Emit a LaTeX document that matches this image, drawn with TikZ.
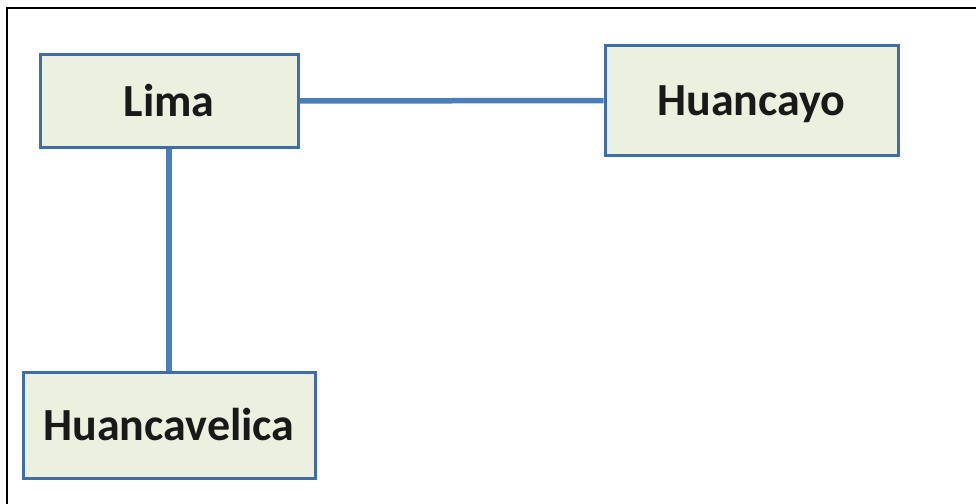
\documentclass[tikz,border=0pt]{standalone}
\usepackage{fontspec}
\setmainfont{Carlito}
\definecolor{boxfill}{HTML}{EBF1DE}
\definecolor{boxdraw}{HTML}{3F6DAA}
\definecolor{linkcol}{HTML}{4A7EBB}
\begin{document}
\begin{tikzpicture}[x=1pt,y=-1pt,
  city/.style={draw=boxdraw,fill=boxfill,line width=3pt,inner sep=0pt,
    font=\fontsize{46}{54}\selectfont\bfseries,text=black!90},
  link/.style={draw=linkcol,line width=5.5pt}]
\useasboundingbox (0,0) rectangle (976,503);
\draw[line width=2pt,black] (7,520) -- (7,8) -- (990,8);
\node[city,minimum width=258pt,minimum height=92pt] (lima) at (169,101) {Lima};
\node[city,minimum width=293pt,minimum height=109pt] (huancayo) at (751.5,100.5) {\smash{\raisebox{-4pt}{Huancayo}}\vphantom{Huancayo}};
\node[city,minimum width=292pt,minimum height=106pt] (huancavelica) at (169,425) {Huancavelica};
\draw[link] (lima.east) -- (huancayo.west);
\draw[link] (lima.south) -- (huancavelica.north);
\end{tikzpicture}
\end{document}
